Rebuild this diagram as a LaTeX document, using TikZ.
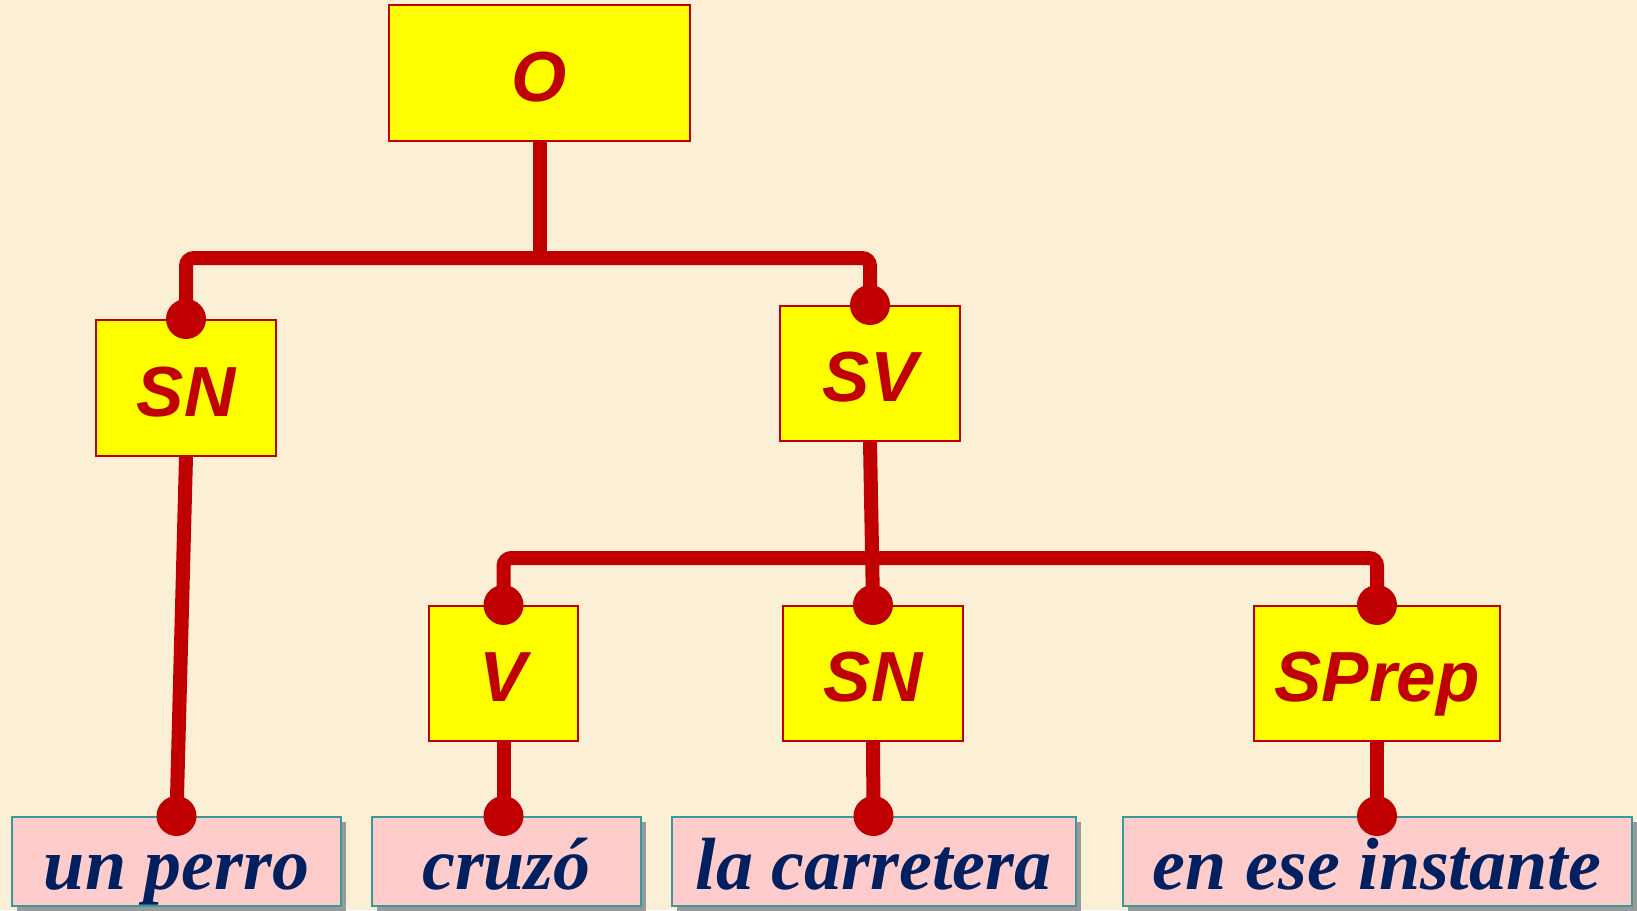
\documentclass[tikz,border=0pt]{standalone}
\usepackage{fontspec}
\setmainfont{Liberation Serif}
\newfontfamily\labfont{Liberation Sans}
\usetikzlibrary{shadows}
\definecolor{bgc}{HTML}{FBEFD6}
\definecolor{dred}{HTML}{C00000}
\definecolor{ylw}{HTML}{FFFF00}
\definecolor{pinkc}{HTML}{FFCCCC}
\definecolor{tealc}{HTML}{3A9A9A}
\definecolor{navy}{HTML}{002060}
\begin{document}
\begin{tikzpicture}[x=1pt,y=-1pt,
  catbox/.style={draw=dred,line width=2pt,fill=ylw,inner sep=0pt,
    text=dred,font=\labfont\bfseries\itshape\fontsize{71}{71}\selectfont,
    text height=56pt,text depth=0pt,minimum height=135pt},
  wordbox/.style={draw=tealc,line width=2pt,fill=pinkc,inner sep=0pt,
    drop shadow={shadow xshift=5pt,shadow yshift=-5pt,fill=black!40,opacity=1},
    text=navy,font=\bfseries\itshape\fontsize{74}{74}\selectfont,
    text height=70pt,text depth=15pt,minimum height=89pt},
  conn/.style={draw=dred,line width=14pt},
  dotc/.style={fill=dred}]
\useasboundingbox (0,0) rectangle (1637,910);
\fill[bgc] (0,0) rectangle (1637,910);

\node[catbox,minimum width=301pt,minimum height=136pt] (O) at (539.5,73) {O};
\node[catbox,minimum width=180pt,minimum height=136pt] (SNa) at (186,388) {SN};
\node[catbox,minimum width=180pt] (SV) at (870,373.5) {SV};
\node[catbox,minimum width=149pt] (V) at (503.5,673.5) {V};
\node[catbox,minimum width=180pt] (SNb) at (873,673.5) {SN};
\node[catbox,minimum width=246pt] (SP) at (1377,673.5) {SPrep};

\node[wordbox,minimum width=329pt] (w1) at (176.5,861.5) {un perro};
\node[wordbox,minimum width=269pt] (w2) at (506.5,861.5) {cruzó};
\node[wordbox,minimum width=404pt] (w3) at (873.5,861.5) {la carretera};
\node[wordbox,minimum width=509pt] (w4) at (1377,861.5) {en ese instante};

\coordinate (j1) at (539.5,258);
\coordinate (j2) at (873,558);
\coordinate (d2) at (V.south |- w2.north);

\draw[conn] (O.south) -- (j1);
\draw[conn,rounded corners=8pt] (SNa.north) |- (j1) -| (SV.north);
\draw[conn] (SV.south) -- (SNb.north);
\draw[conn,rounded corners=8pt] (V.north) |- (j2) -| (SP.north);
\draw[conn] (SNa.south) -- (w1.north);
\draw[conn] (V.south) -- (d2);
\draw[conn] (SNb.south) -- (w3.north);
\draw[conn] (SP.south) -- (w4.north);

\foreach \n in {SNa.north,SV.north,V.north,SNb.north,SP.north,w1.north,d2,w3.north,w4.north}
  \fill[dotc] (\n) circle (20pt);
\end{tikzpicture}
\end{document}
